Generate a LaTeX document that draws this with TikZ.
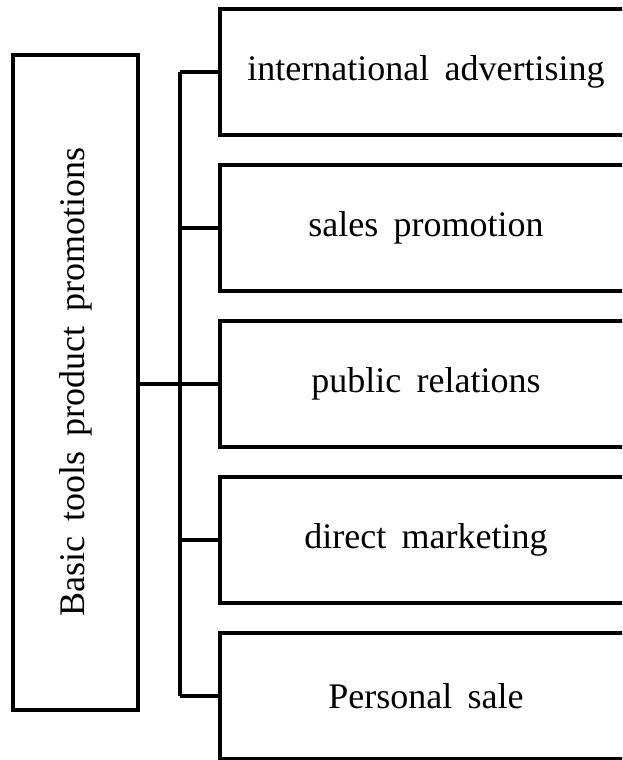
\documentclass[tikz,border=0pt]{standalone}
\usepackage{fontspec}
\setmainfont[WordSpace=1.7]{Liberation Serif}
\tikzset{
  toolbox/.style={draw, line width=2pt, minimum width=206pt, minimum height=63pt,
    inner sep=0pt, font=\fontsize{18}{22}\selectfont},
  rootbox/.style={draw, line width=2pt, minimum width=327.5pt, minimum height=62.5pt,
    inner sep=0pt, rotate=90, font=\fontsize{18}{22}\selectfont},
  link/.style={line width=2pt}
}
\begin{document}
\begin{tikzpicture}[x=0.5pt, y=-0.5pt]
  \useasboundingbox (0,0) rectangle (622,760);
  \clip (0,0) rectangle (622,760);

  % Draw root box
  \node[rootbox] (root) at (75.5,382) {Basic tools product promotions};

  % Draw tool boxes
  \node[toolbox] (b1) at (426,72)  {international advertising};
  \node[toolbox] (b2) at (426,228) {sales promotion};
  \node[toolbox] (b3) at (426,384) {public relations};
  \node[toolbox] (b4) at (426,540) {direct marketing};
  \node[toolbox] (b5) at (426,696) {Personal sale};

  % Draw connectors
  \coordinate (hub) at (180,384);
  \draw[link] (root.south |- hub) -- (hub);
  \draw[link] (hub |- b1.west) -- (hub |- b5.west);
  \foreach \i in {1,2,3,4,5}
    \draw[link] (hub |- b\i.west) -- (b\i.west);
\end{tikzpicture}
\end{document}
